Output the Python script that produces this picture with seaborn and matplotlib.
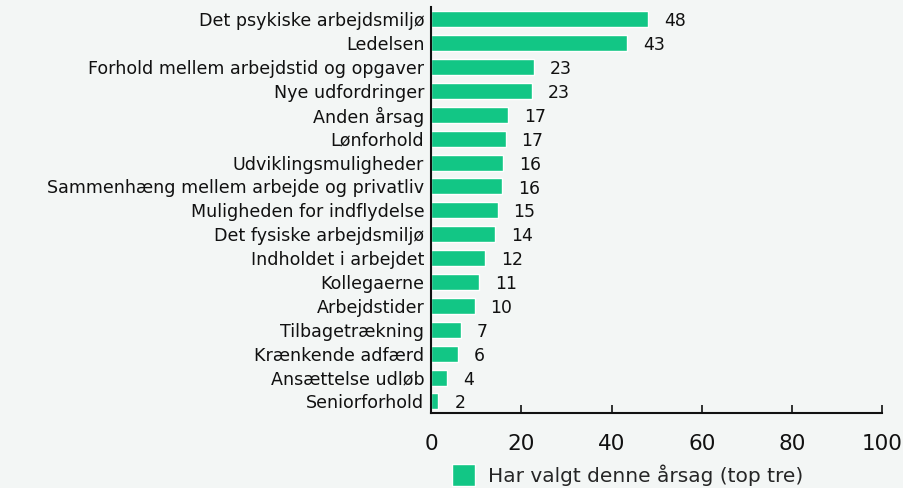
import matplotlib
matplotlib.use('Agg')
import matplotlib.pyplot as plt
import pandas as pd
import seaborn as sns

categories = [
    'Det psykiske arbejdsmiljø',
    'Ledelsen',
    'Forhold mellem arbejdstid og opgaver',
    'Nye udfordringer',
    'Anden årsag',
    'Lønforhold',
    'Udviklingsmuligheder',
    'Sammenhæng mellem arbejde og privatliv',
    'Muligheden for indflydelse',
    'Det fysiske arbejdsmiljø',
    'Indholdet i arbejdet',
    'Kollegaerne',
    'Arbejdstider',
    'Tilbagetrækning',
    'Krænkende adfærd',
    'Ansættelse udløb',
    'Seniorforhold',
]
values = [48.1, 43.4, 22.8, 22.4, 17.1, 16.5, 16.0, 15.7, 14.7, 14.2,
          12.0, 10.6, 9.6, 6.5, 6.0, 3.5, 1.6]
value_labels = ['48', '43', '23', '23', '17', '17', '16', '16', '15', '14',
                '12', '11', '10', '7', '6', '4', '2']
series_name = 'Har valgt denne årsag (top tre)'

bg = '#f3f6f5'
green = '#12c685'
ink = '#111111'

sns.set_theme(style='white')
plt.rcParams['font.family'] = ['DejaVu Sans']

df = pd.DataFrame({'kategori': categories, 'pct': values, 'serie': series_name})

fig, ax = plt.subplots(figsize=(9.04, 4.88), dpi=100)
fig.patch.set_facecolor(bg)
ax.set_facecolor(bg)

sns.barplot(data=df, y='kategori', x='pct', hue='serie', palette=[green],
            saturation=1, width=0.67, ax=ax, orient='h', legend=True)

for bar, lab in zip(ax.patches, value_labels):
    ax.annotate(lab, (bar.get_width(), bar.get_y() + bar.get_height() / 2),
                xytext=(11.5, -1.5), textcoords='offset points', ha='left', va='center',
                fontsize=12.4, color=ink)

ax.set_xlim(0, 100)
ax.set_xticks([0, 20, 40, 60, 80, 100])
ax.set_xlabel('')
ax.set_ylabel('')
for s in ['top', 'right']:
    ax.spines[s].set_visible(False)
for s in ['left', 'bottom']:
    ax.spines[s].set_color(ink)
    ax.spines[s].set_linewidth(1.5)
ax.tick_params(axis='x', bottom=True, direction='in', length=6, width=1.2, color=ink,
               labelsize=15.5, pad=15, labelcolor=ink)
ax.tick_params(axis='y', left=False, length=0, labelsize=12.6, pad=5, labelcolor=ink)

ax.get_legend().remove()
handles, labels = ax.get_legend_handles_labels()
fig.legend(handles, labels, loc='center left', bbox_to_anchor=(0.5, 0.026),
           frameon=False, fontsize=14.5, handlelength=1.15, handleheight=1.3,
           handletextpad=0.65, borderpad=0, borderaxespad=0)

fig.subplots_adjust(left=0.477, right=0.976, top=0.985, bottom=0.153)
fig.savefig('out.png', dpi=100, facecolor=bg)
